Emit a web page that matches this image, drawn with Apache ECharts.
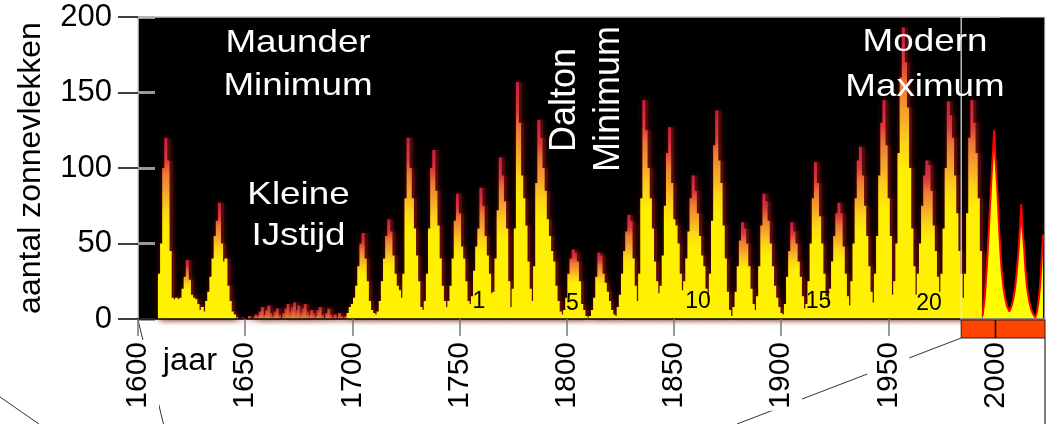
<!DOCTYPE html>
<html>
<head>
<meta charset="utf-8">
<script src="https://cdn.jsdelivr.net/npm/echarts@6/dist/echarts.min.js"></script>
<style>
  html, body { margin: 0; padding: 0; background: #fff; }
  #chart { width: 1057px; height: 424px; }
</style>
</head>
<body>
<div id="chart"></div>
<script>
// Yearly sunspot numbers, first value is for firstYear
const firstYear = 1610;
const sunspots1600s = [
  30, 50, 100, 120, 105, 45, 14, 13, 14, 13,
  14, 20, 28, 39, 26, 16, 14, 13, 10, 6,
  8, 5, 12, 18, 28, 40, 55, 65, 77, 50,
  38, 40, 22, 12, 5, 3, 1, 0, 0, 1,
  0, 0, 2, 0, 1, 3, 2, 5, 8, 3,
  6, 9, 4, 2, 5, 7, 3, 1, 4, 7,
  10, 5, 8, 11, 6, 9, 4, 7, 10, 5,
  3, 6, 4, 2, 6, 8, 3, 1, 4, 7,
  3, 1, 3, 1, 4, 2, 1, 2, 4, 8
];
const sunspots1700s = [
  10, 14, 22, 35, 50, 57, 40, 25, 12, 6,
  4, 3, 5, 12, 25, 40, 55, 66, 58, 42,
  30, 22, 19, 14, 30, 80, 120, 100, 80, 60,
  42, 25, 8, 6, 12, 30, 60, 100, 112, 85,
  62, 40, 22, 12, 8, 12, 22, 40, 65, 83,
  70, 48, 40, 25, 12, 10, 15, 32, 48, 60,
  87, 75, 55, 42, 30, 17, 18, 40, 72, 107,
  95, 78, 60, 25, 8, 20, 60, 157, 130, 95,
  80, 62, 38, 20, 12, 35, 90, 132, 120, 100,
  85, 66, 55, 45, 38, 22, 12, 5, 3, 6
];
const sunspots1800s = [
  14, 30, 40, 46, 44, 38, 25, 10, 6, 2,
  1, 2, 6, 14, 28, 44, 42, 30, 24, 18,
  12, 6, 3, 2, 8, 16, 30, 45, 58, 69,
  65, 40, 22, 12, 30, 80, 145, 125, 100, 80,
  60, 38, 25, 17, 22, 42, 75, 110, 127, 90,
  66, 62, 50, 30, 19, 25, 40, 58, 80, 95,
  85, 70, 55, 42, 35, 20, 13, 30, 65, 115,
  138, 105, 90, 62, 40, 18, 6, 2, 8, 18,
  35, 52, 64, 60, 50, 35, 20, 10, 6, 15,
  35, 62, 83, 78, 65, 50, 35, 22, 14, 8
];
const sunspots1900s = [
  4, 3, 10, 28, 45, 64, 58, 50, 38, 28,
  15, 7, 10, 25, 50, 80, 104, 90, 68, 50,
  30, 15, 9, 20, 38, 55, 70, 77, 70, 48,
  30, 15, 9, 25, 50, 80, 105, 114, 95, 75,
  55, 35, 18, 11, 30, 55, 95, 130, 145, 115,
  80, 55, 16, 25, 50, 110, 160, 193, 170, 140,
  100, 60, 35, 16, 30, 50, 75, 95, 105, 102,
  85, 62, 45, 28, 18, 30, 60, 100, 144, 135,
  120, 95, 70, 45, 30, 14, 30, 70, 120, 145,
  130, 110, 80, 45
];

// Recent cycles (inset), fractional years
const recentYears = [
  1994.0, 1995.0, 1996.0, 1997.0, 1997.6, 1998.2, 1998.7, 1999.4, 1999.9, 2000.7,
  2001.3, 2001.8, 2002.4, 2003.0, 2003.8, 2004.6, 2005.5, 2006.5, 2007.4, 2008.3,
  2009.2, 2010.0, 2010.8, 2011.5, 2012.0, 2012.6, 2013.4, 2014.0, 2014.7, 2015.7,
  2016.7, 2017.7, 2018.6, 2019.4, 2020.1, 2020.8, 2021.4, 2021.8, 2022.2
];
const recentSunspots = [
  2, 14, 35, 62, 79, 95, 108, 125, 108, 90,
  72, 57, 42, 30, 20, 13, 8, 5, 8, 13,
  21, 32, 46, 62, 76, 60, 46, 32, 21, 12,
  6, 3, 1, 5, 12, 22, 35, 46, 56
];

const cycleNumbers = ['1', '5', '10', '15', '20'];

const FONT = "'Liberation Sans', Arial, sans-serif";

const yearly = [].concat(sunspots1600s, sunspots1700s, sunspots1800s, sunspots1900s);
const recentData = recentYears.map((y, i) => [y, recentSunspots[i]]);

// Flame colouring: a column's colour depends on its height relative to the
// highest year of its own cycle, so every cycle ends in a red tip.
const keyFracs = [0, 0.5, 0.6, 0.7, 0.8, 0.88, 1];
const keyColors = ['#fff200', '#fff000', '#fcd418', '#f5a52a', '#ee7a35', '#de3a3c', '#c81c44'];
function colorAt(f) {
  for (let k = 1; k < keyFracs.length; k++) {
    if (f <= keyFracs[k]) {
      const t = (f - keyFracs[k - 1]) / (keyFracs[k] - keyFracs[k - 1]);
      return echarts.color.lerp(t, [keyColors[k - 1], keyColors[k]]);
    }
  }
  return keyColors[keyColors.length - 1];
}
function flameFor(v, peak) {
  // nearly spotless years only glow dull red and orange
  if (peak < 16) {
    return new echarts.graphic.LinearGradient(0, 0, 0, 1, [
      { offset: 0, color: '#b8243a' },
      { offset: 0.5, color: '#d8502e' },
      { offset: 1, color: '#e8902c' }
    ]);
  }
  const top = peak > 0 ? Math.min(1, v / peak) : 1;
  const stops = [{ offset: 0, color: colorAt(top) }];
  for (let k = keyFracs.length - 2; k >= 1; k--) {
    if (keyFracs[k] < top) stops.push({ offset: 1 - keyFracs[k] / top, color: keyColors[k] });
  }
  stops.push({ offset: 1, color: keyColors[0] });
  return new echarts.graphic.LinearGradient(0, 0, 0, 1, stops);
}
const barData = yearly.map((v, i) => {
  let peak = 0;
  for (let j = Math.max(0, i - 4); j <= Math.min(yearly.length - 1, i + 4); j++) peak = Math.max(peak, yearly[j]);
  return { value: [firstYear + i, v], itemStyle: { color: flameFor(v, peak) } };
});
const glowData = yearly.map((v, i) => [firstYear + i, v]);

const chart = echarts.init(document.getElementById('chart'), null, { renderer: 'canvas' });

const option = {
  animation: false,
  backgroundColor: '#fff',
  grid: {
    left: 138, right: 12, top: 17, bottom: 105,
    show: true, backgroundColor: '#000', borderWidth: 0
  },
  xAxis: {
    type: 'value', min: 1600, max: 2023.1, interval: 50, z: 10,
    axisLine: { show: true, onZero: false, lineStyle: { color: '#000', width: 1.5 } },
    axisTick: { show: true, length: 17, lineStyle: { color: '#777', width: 1.5 } },
    splitLine: { show: false },
    axisLabel: {
      rotate: 90, margin: 21, fontSize: 30, fontFamily: FONT, color: '#000',
      backgroundColor: '#fff', padding: [6, 2, 6, 2], showMaxLabel: false,
      formatter: v => (v % 50 === 0 ? String(v) : '')
    }
  },
  yAxis: [
    {
      type: 'value', min: 0, max: 200, interval: 50,
      name: 'aantal zonnevlekken', nameLocation: 'middle', nameRotate: 90, nameGap: 91,
      nameTextStyle: { fontSize: 32, fontFamily: FONT, color: '#000' },
      axisLine: { show: true, lineStyle: { color: '#d8d8d8', width: 1.5 } },
      axisTick: { show: true, length: 20, lineStyle: { color: '#000', width: 1.5 } },
      axisLabel: { fontSize: 31, fontFamily: FONT, color: '#000', margin: 26 },
      splitLine: { show: false }
    },
    {
      type: 'value', min: 0, max: 200, interval: 50, position: 'left',
      axisLine: { show: false }, axisLabel: { show: false }, splitLine: { show: false },
      axisTick: { show: true, inside: true, length: 17, lineStyle: { color: '#9a9a9a', width: 3 } }
    }
  ],
  series: [
    {
      // dark glow around each cycle
      type: 'bar', data: glowData, barWidth: 6, z: 1, silent: true,
      itemStyle: { color: 'rgba(95,16,14,0.7)', shadowBlur: 6, shadowColor: 'rgba(110,20,15,0.85)' }
    },
    {
      type: 'bar', data: barData, barWidth: 3, barGap: '-100%', z: 2
    },
    {
      type: 'line', data: recentData, z: 3, symbol: 'none', clip: true,
      lineStyle: { color: '#ff0000', width: 2 },
      areaStyle: { color: '#ffff00', opacity: 1 }
    }
  ]
};
chart.setOption(option);

const px = (yr, v) => chart.convertToPixel({ gridIndex: 0 }, [yr, v]);
const [insetL, gTop] = px(1984, 200);
const [gRight, gBottom] = px(2023.1, 0);
const x2000 = px(2000, 0)[0];

function whiteText(text, x, y) {
  return {
    type: 'text', x: x, y: y, scaleX: 1.15, z: 20,
    style: { text: text, fill: '#fff', font: '32px ' + FONT, align: 'center', verticalAlign: 'middle' }
  };
}
function blackText(text, x, y, size, sx) {
  return {
    type: 'text', x: x, y: y, scaleX: sx || 1, z: 20,
    style: { text: text, fill: '#000', font: size + 'px ' + FONT, align: 'center', verticalAlign: 'middle' }
  };
}
function rotatedText(text, x, y) {
  return {
    type: 'text', x: x, y: y, rotation: Math.PI / 2, z: 20,
    style: { text: text, fill: '#fff', font: '36px ' + FONT, align: 'center', verticalAlign: 'middle' }
  };
}

const cyclePos = [[479, 301.5], [572.5, 304], [698, 301.5], [818.5, 302], [929, 303.5]];

chart.setOption({
  graphic: [
    { type: 'line', z: 15, shape: { x1: 138, y1: gTop, x2: 1000, y2: gTop }, style: { stroke: '#bdbdbd', lineWidth: 1.5 } },
    { type: 'rect', z: 15, shape: { x: insetL, y: gTop, width: gRight - insetL, height: gBottom - gTop },
      style: { fill: null, stroke: '#e6e6e6', lineWidth: 1.2 } },
    { type: 'rect', z: 30, shape: { x: insetL, y: gBottom + 1, width: gRight - insetL, height: 18 },
      style: { fill: '#ff4500', stroke: '#222', lineWidth: 1 } },
    { type: 'line', z: 31, shape: { x1: x2000, y1: gBottom + 1, x2: x2000, y2: gBottom + 19 }, style: { stroke: '#000', lineWidth: 1.5 } },
    { type: 'line', z: -5, shape: { x1: gRight, y1: gBottom + 19, x2: gRight, y2: 424 }, style: { stroke: '#555', lineWidth: 1.5 } },
    { type: 'line', z: -5, shape: { x1: insetL, y1: gBottom + 19, x2: 737, y2: 424 }, style: { stroke: '#333', lineWidth: 1 } },
    { type: 'line', z: -5, shape: { x1: 138, y1: gBottom + 1, x2: 163.5, y2: 424 }, style: { stroke: '#333', lineWidth: 1 } },
    { type: 'line', z: -5, shape: { x1: 0, y1: 397, x2: 39, y2: 424 }, style: { stroke: '#333', lineWidth: 1 } },
    whiteText('Maunder', 298, 43.5),
    whiteText('Minimum', 298, 86),
    whiteText('Kleine', 298.5, 195),
    whiteText('IJstijd', 298.5, 236),
    whiteText('Modern', 925, 42.5),
    whiteText('Maximum', 925, 87),
    rotatedText('Dalton', 565, 100),
    rotatedText('Minimum', 609, 99),
    blackText('jaar', 190, 361, 31, 1.05)
  ].concat(cycleNumbers.map((t, i) => blackText(t, cyclePos[i][0], cyclePos[i][1], 23)))
});
</script>
</body>
</html>
